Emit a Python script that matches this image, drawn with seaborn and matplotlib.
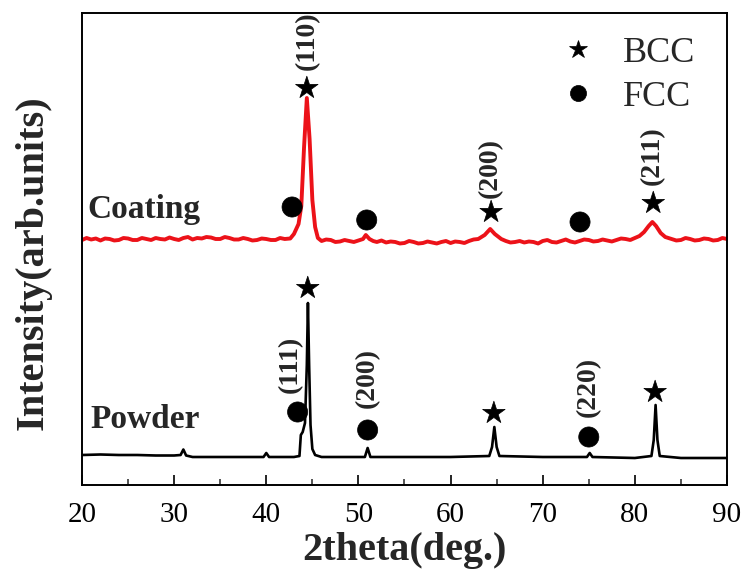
import matplotlib
matplotlib.use("Agg")
import matplotlib.pyplot as plt
from matplotlib.ticker import MultipleLocator
import pandas as pd
import seaborn as sns

# XRD pattern of the coating (offset upward), 2theta in degrees, intensity in arb. units
coating_2theta = [20.0, 20.5, 21.0, 21.5, 22.0, 22.5, 23.0, 23.5, 24.0, 24.5, 25.0, 25.5,
                  26.0, 26.5, 27.0, 27.5, 28.0, 28.5, 29.0, 29.5, 30.0, 30.5, 31.0, 31.5,
                  32.0, 32.5, 33.0, 33.5, 34.0, 34.5, 35.0, 35.5, 36.0, 36.5, 37.0, 37.5,
                  38.0, 38.5, 39.0, 39.5, 40.0, 40.5, 41.0, 41.5, 42.0, 42.6,
                  43.0, 43.5, 43.8, 44.1, 44.4, 44.7, 45.0, 45.3, 45.6, 46.0, 46.5, 47.0,
                  47.5, 48.0, 48.5, 49.0, 49.5, 50.0, 50.5, 50.8, 51.2, 51.6, 52.0, 52.5,
                  53.0, 53.5, 54.0, 54.5, 55.0, 55.5, 56.0, 56.5, 57.0, 57.5, 58.0, 58.5,
                  59.0, 59.5, 60.0, 60.5, 61.0, 61.5, 62.0, 62.5, 63.0, 63.7, 64.3, 64.8,
                  65.5, 66.0, 66.5, 67.0, 67.5, 68.0, 68.5, 69.0, 69.5, 70.0, 70.5, 71.0,
                  71.5, 72.0, 72.5, 73.0, 73.5, 74.0, 74.5, 75.0, 75.5, 76.0, 76.5, 77.0,
                  77.5, 78.0, 78.5, 79.0, 79.5, 80.0, 80.5, 81.0, 81.5, 81.9, 82.3, 82.8,
                  83.3, 84.0, 84.5, 85.0, 85.5, 86.0, 86.5, 87.0, 87.5, 88.0, 88.5, 89.0,
                  89.5, 90.0]
coating_intensity = [245, 247, 245.5, 246.5, 244.5, 246.5, 246, 244.5, 245, 247, 246.5, 245,
                     245, 247, 246, 245, 247, 246, 245.5, 247.5, 246, 245, 247, 248,
                     245.5, 247, 246.5, 248, 247.5, 246, 246, 248, 247, 245.5, 245.5, 247,
                     246, 244.5, 245, 246.5, 246, 245, 245, 247, 246, 246.5,
                     251, 261, 279, 338, 387, 346, 285, 258, 247, 244, 245.5, 245,
                     243, 243.5, 245, 244, 243, 244.5, 246, 250, 246, 244, 243, 244.5,
                     242.5, 243.5, 243, 241.5, 242, 244, 243, 241.5, 242, 243.5, 242.5, 241.5,
                     243, 244, 242, 243.5, 243, 242, 244, 245.5, 246, 250, 256, 251,
                     246, 244, 242.5, 243, 244, 242.5, 243.5, 243, 241.5, 244, 245, 243,
                     242.5, 244, 245.5, 243.5, 242.5, 244, 245.5, 245, 243.5, 244, 245.5, 244.5,
                     243.5, 245, 246.5, 246, 245, 247, 249, 253, 259, 263, 259, 252,
                     248, 246, 244.5, 245, 247, 246, 244.5, 245, 246.5, 246, 244.5, 245,
                     247, 246]

# XRD pattern of the feedstock powder
powder_2theta = [20.0, 22.0, 24.0, 26.0, 28.0, 30.0, 30.7, 31.0, 31.3, 32.0, 35.0, 38.0,
                 39.7, 40.0, 40.3, 43.0, 43.6, 43.75, 43.95, 44.2, 44.4, 44.52, 44.65, 44.8,
                 45.0, 45.3, 46.0, 48.0, 50.7, 51.0, 51.3, 55.0, 60.0, 64.2, 64.5, 64.75,
                 65.0, 65.3, 70.0, 74.8, 75.1, 75.4, 80.0, 81.8, 82.05, 82.25, 82.45, 82.7,
                 85.0, 90.0]
powder_intensity = [30, 30.5, 30, 30, 29.5, 29.5, 30, 35.5, 29.5, 28, 28, 28,
                    28, 32, 28, 28, 29, 50, 53, 62, 120, 182, 120, 60,
                    36, 30, 28, 28, 28, 37, 28, 28, 28, 29, 38, 58,
                    38, 29, 28, 28, 32, 28, 27, 29, 45, 80, 45, 29,
                    27, 27]

# Phase markers placed above the reflections
marker_2theta = [44.4, 64.4, 82.0, 42.8, 50.9, 74.05,
                 44.5, 64.7, 82.2, 43.4, 51.0, 75.0]
marker_intensity = [397, 273, 282, 278, 265, 263,
                    197, 72, 93, 73, 55, 48]
marker_phase = ["BCC", "BCC", "BCC", "FCC", "FCC", "FCC",
                "BCC", "BCC", "BCC", "FCC", "FCC", "FCC"]

# Miller indices of the labelled reflections
hkl_2theta = [44.5, 64.3, 81.9, 42.6, 51.0, 75.0]
hkl_intensity = [415, 287, 300, 92, 77, 68]
hkl_text = ["(110)", "(200)", "(211)", "(111)", "(200)", "(220)"]

x_ticks = [20, 30, 40, 50, 60, 70, 80, 90]

sns.set_theme(style="ticks")
plt.rcParams["font.family"] = ["Liberation Serif", "DejaVu Serif"]

fig = plt.figure(figsize=(7.45, 5.71), dpi=100)
ax = fig.add_axes([82 / 745, 1 - 485 / 571, 645 / 745, 472.5 / 571])

coating = pd.DataFrame({"two_theta": coating_2theta, "intensity": coating_intensity})
powder = pd.DataFrame({"two_theta": powder_2theta, "intensity": powder_intensity})
markers = pd.DataFrame({"two_theta": marker_2theta, "intensity": marker_intensity,
                        "phase": marker_phase})

sns.lineplot(data=coating, x="two_theta", y="intensity", color="#ec1219", lw=2.8,
             errorbar=None, ax=ax)
sns.lineplot(data=powder, x="two_theta", y="intensity", color="black", lw=1.9,
             errorbar=None, ax=ax)

sns.scatterplot(data=markers, x="two_theta", y="intensity", style="phase", size="phase",
                markers={"BCC": "*", "FCC": "o"}, sizes={"BCC": 290, "FCC": 210},
                style_order=["BCC", "FCC"], size_order=["BCC", "FCC"],
                color="black", edgecolor="black", linewidth=0.5, ax=ax, zorder=3)

for xv, yv, t in zip(hkl_2theta, hkl_intensity, hkl_text):
    ax.text(xv, yv, t, rotation=90, ha="center", va="bottom", fontsize=20,
            fontweight="bold", clip_on=True)

ax.text(20.54, 267, "Coating", fontsize=24, fontweight="bold", ha="left", va="baseline")
ax.text(20.87, 57, "Powder", fontsize=24, fontweight="bold", ha="left", va="baseline")

ax.set_xlim(20, 90)
ax.set_ylim(0, 472.5)
ax.set_xticks(x_ticks)
ax.set_xticklabels([str(v) for v in x_ticks])
ax.xaxis.set_minor_locator(MultipleLocator(5))
ax.set_yticks([])
ax.tick_params(axis="x", which="major", direction="in", length=7, width=1.2,
               labelsize=21, pad=12, colors="black", bottom=True, top=False)
ax.tick_params(axis="x", which="minor", direction="in", length=4.5, width=1.1,
               bottom=True, top=False)
for s in ax.spines.values():
    s.set_linewidth(1.4)
    s.set_color("black")

ax.set_xlabel("2theta(deg.)", fontsize=29, fontweight="bold", labelpad=3)
ax.set_ylabel("Intensity(arb.units)", fontsize=29, fontweight="bold")
ax.yaxis.set_label_coords(-0.0465, 0.47)

leg = ax.legend(loc="upper right", bbox_to_anchor=(0.985, 0.995), frameon=False,
                fontsize=26, markerscale=0.8, handlelength=1.0, handletextpad=0.75,
                labelspacing=0.3, borderaxespad=0.2)

fig.savefig("out.png", dpi=100)
